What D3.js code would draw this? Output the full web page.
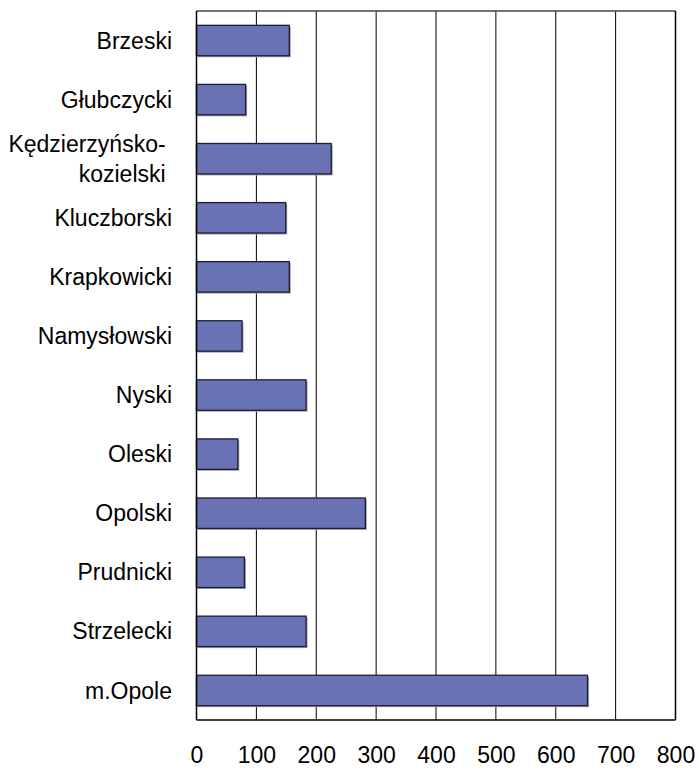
<!DOCTYPE html>
<html>
<head>
<meta charset="utf-8">
<script src="https://cdn.jsdelivr.net/npm/d3@7"></script>
<style>
  html, body { margin: 0; padding: 0; background: #fff; }
  svg text { font-family: "Liberation Sans", Arial, sans-serif; fill: #000; }
</style>
</head>
<body>
<svg id="chart" width="699" height="769"></svg>
<script>
const categories = ["Brzeski", "Głubczycki", "Kędzierzyńsko-kozielski", "Kluczborski", "Krapkowicki",
  "Namysłowski", "Nyski", "Oleski", "Opolski", "Prudnicki", "Strzelecki", "m.Opole"];
const categoryLines = [["Brzeski"], ["Głubczycki"], ["Kędzierzyńsko- ", "kozielski "], ["Kluczborski"], ["Krapkowicki"],
  ["Namysłowski"], ["Nyski"], ["Oleski"], ["Opolski"], ["Prudnicki"], ["Strzelecki"], ["m.Opole"]];
const values = [155, 82, 225, 149, 155, 76, 183, 69, 282, 80, 183, 653];
const xTicks = [0, 100, 200, 300, 400, 500, 600, 700, 800];

(function () {
const svg = d3.select("#chart");
const pLeft = 196.5, pRight = 675.5, pTop = 11, pBottom = 720;
const fontSize = "23px";

const x = d3.scaleLinear().domain([0, 800]).range([pLeft, pRight]);
const y = d3.scaleBand().domain(categories).range([pTop, pBottom]).paddingInner(0.485).paddingOuter(0.2425);

// gridlines
svg.append("g").selectAll("line").data(xTicks.slice(1, -1)).join("line")
  .attr("x1", d => x(d)).attr("x2", d => x(d))
  .attr("y1", pTop).attr("y2", pBottom)
  .attr("stroke", "#000").attr("stroke-width", 1);

// frame
svg.append("line").attr("x1", pLeft).attr("x2", pRight).attr("y1", pTop).attr("y2", pTop)
  .attr("stroke", "#444").attr("stroke-width", 1.5);
svg.append("line").attr("x1", pRight).attr("x2", pRight).attr("y1", pTop).attr("y2", pBottom)
  .attr("stroke", "#000").attr("stroke-width", 1.5);

// bar shadows
svg.append("g").selectAll("rect").data(values).join("rect")
  .attr("x", x(0) + 1.5)
  .attr("y", (d, i) => y(categories[i]) + 1.5)
  .attr("width", d => x(d) - x(0))
  .attr("height", y.bandwidth())
  .attr("fill", "#a0a0a0");

// bars
svg.append("g").selectAll("rect").data(values).join("rect")
  .attr("x", x(0))
  .attr("y", (d, i) => y(categories[i]))
  .attr("width", d => x(d) - x(0))
  .attr("height", y.bandwidth())
  .attr("fill", "#6973b3")
  .attr("stroke", "#1c1c3a").attr("stroke-width", 1.3);

// axes lines
svg.append("line").attr("x1", pLeft).attr("x2", pLeft).attr("y1", pTop).attr("y2", pBottom)
  .attr("stroke", "#000").attr("stroke-width", 1.5);
svg.append("line").attr("x1", pLeft).attr("x2", pRight).attr("y1", pBottom).attr("y2", pBottom)
  .attr("stroke", "#000").attr("stroke-width", 1.5);

// x tick labels
const xAxis = d3.axisBottom(x).tickValues(xTicks).tickSize(0).tickPadding(0);
const gx = svg.append("g").attr("transform", `translate(0,${pBottom})`).call(xAxis);
gx.select(".domain").remove();
gx.selectAll("text").attr("y", 43).attr("dy", 0)
  .style("font-size", fontSize).style("font-family", "'Liberation Sans', Arial, sans-serif").attr("fill", "#000");

// category labels
const lh = 30;
const labels = svg.append("g").selectAll("text").data(categoryLines).join("text")
  .attr("text-anchor", "end")
  .style("font-size", fontSize)
  .style("white-space", "pre")
  .attr("transform", (d, i) => `translate(172,${y(categories[i]) + y.bandwidth() / 2})`);
labels.each(function(lines) {
  const t = d3.select(this);
  const n = lines.length;
  lines.forEach((ln, k) => {
    t.append("tspan").attr("x", 0)
      .attr("y", (k - (n - 1) / 2) * lh)
      .attr("dy", "0.35em")
      .text(ln);
  });
});
})();
</script>
</body>
</html>
